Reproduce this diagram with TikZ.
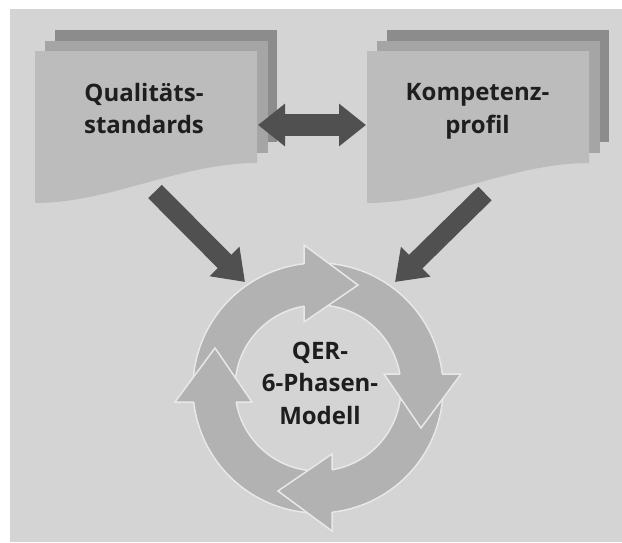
\documentclass[tikz,border=0pt]{standalone}
\usepackage{fontspec}
\setmainfont{Open Sans}
\usetikzlibrary{positioning,arrows.meta}
\definecolor{bggray}{RGB}{212,212,212}
\definecolor{sheetback}{RGB}{140,140,140}
\definecolor{sheetmid}{RGB}{165,165,165}
\definecolor{sheetfront}{RGB}{188,188,188}
\definecolor{arrowdark}{RGB}{80,80,80}
\definecolor{ringgray}{RGB}{178,178,178}
\definecolor{ringline}{RGB}{232,232,232}
\definecolor{textdark}{RGB}{30,30,30}
\tikzset{
    x=1pt,
    y=-1pt,
    doclabel/.style = {
        font=\fontsize{24}{32.5}\selectfont\bfseries,
        text=textdark,
        align=center,
        inner sep=0pt
    },
    feedarrow/.style = {
        draw=arrowdark,
        line width=19pt,
        -{Triangle[width=40pt,length=29pt]}
    },
    linkarrow/.style = {
        draw=arrowdark,
        line width=22pt,
        {Triangle[width=41pt,length=27pt]}-{Triangle[width=41pt,length=27pt]}
    },
    ring/.style = {
        fill=ringgray,
        draw=ringline,
        line width=1.5pt
    },
}

\begin{document}
\begin{tikzpicture}
    \useasboundingbox (0,0) rectangle (622,542);
    \fill[bggray] (10,9) rectangle (622,542);

    % paper stacks
    \foreach \dx in {0,332} {
        \begin{scope}[xshift=\dx]
            \fill[sheetback] (55,30) rectangle (277,142);
            \fill[sheetmid] (45,41) rectangle (268,153);
            \fill[sheetfront] (35,51) -- (257,51) -- (257,163)
                .. controls (180,163) and (110,203) .. (35,203) -- cycle;
        \end{scope}
    }

    \coordinate (qs-east) at (258,125);
    \coordinate (kp-west) at (366,125);
    \coordinate (qs-out) at (155,191.5);
    \coordinate (kp-out) at (485,193.5);
    \coordinate (qer-left) at (245,282);
    \coordinate (qer-right) at (395,282);
    \coordinate (hub) at (318,388);

    \path[draw, linkarrow] (qs-east) -- (kp-west);
    \path[draw, feedarrow] (qs-out) -- (qer-left);
    \path[draw, feedarrow] (kp-out) -- (qer-right);

    % cycle
    \path[ring, even odd rule] (hub) circle[radius=125] (hub) circle[radius=83];
    \foreach \ang in {0,-90,-180,-270} {
        \begin{scope}[shift={(hub)}, rotate=\ang]
            \fill[ringgray] (-14,-143) -- (40,-103) -- (-14,-66) -- cycle;
            \draw[ringline, line width=1.5pt]
                (-14,-124.2) -- (-14,-143) -- (40,-103) -- (-14,-66) -- (-14,-81.8);
        \end{scope}
    }

    \node[doclabel] (qs) at (144,108.7) {Qualitäts-\\standards};
    \node[doclabel] (kp) at (477.5,111.3) {Kompetenz-\\profil};
    \node[doclabel] (qer) at (320,383) {QER-\\6-Phasen-\\Modell};
\end{tikzpicture}
\end{document}
